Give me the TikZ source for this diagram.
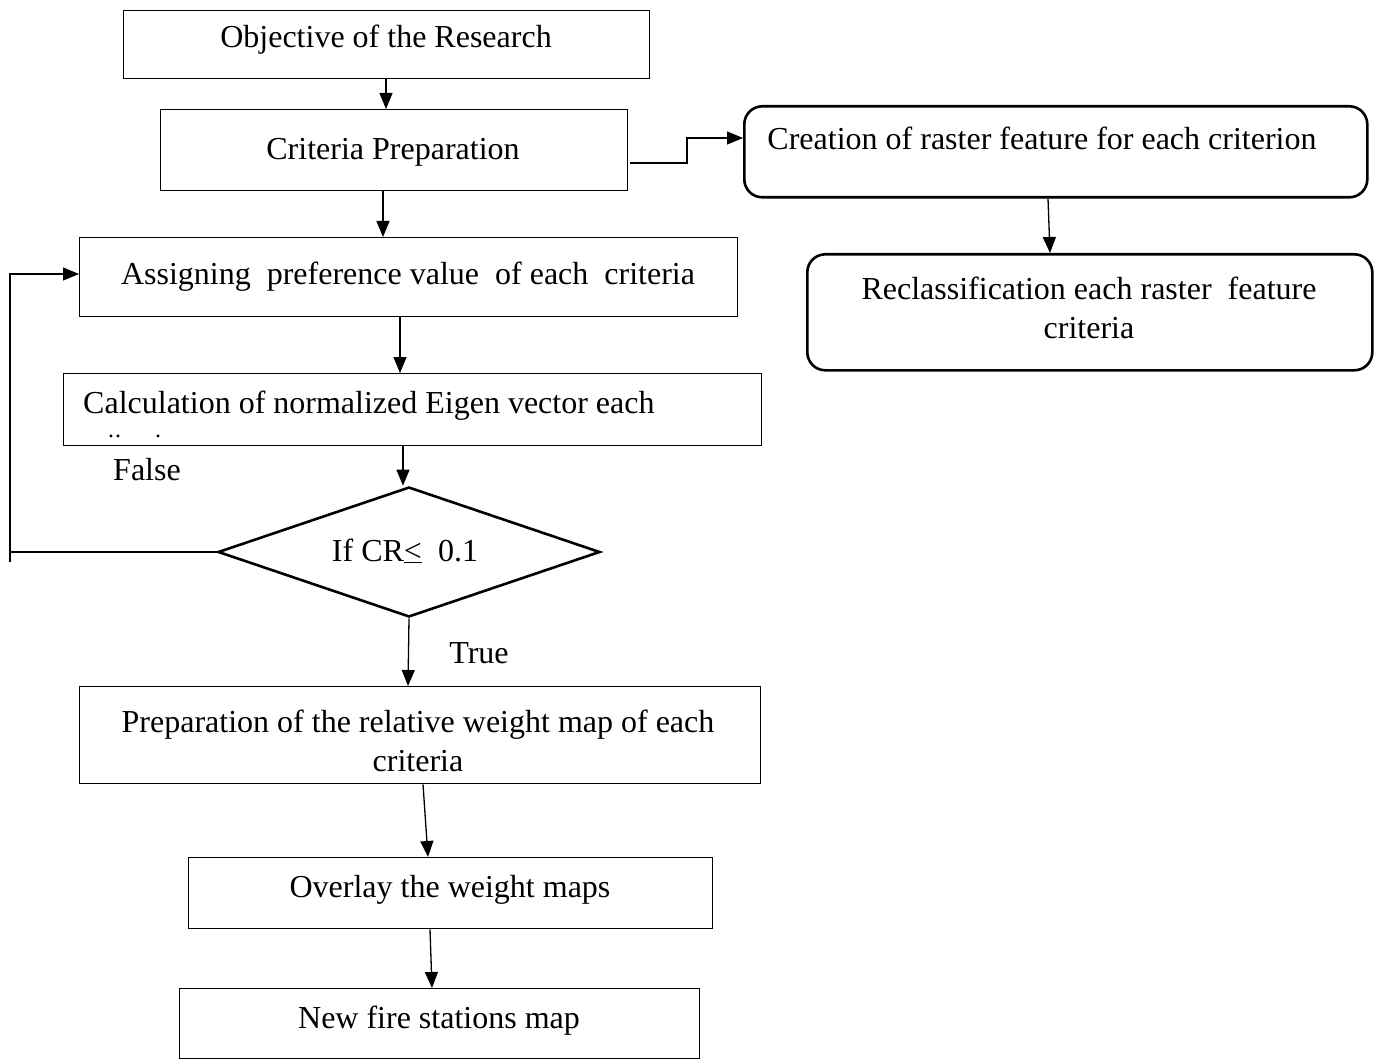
\documentclass[tikz,border=0pt]{standalone}
\usepackage{fontspec}
\setmainfont{Liberation Serif}
\usetikzlibrary{arrows.meta,shapes.geometric}
\begin{document}
\begin{tikzpicture}[x=1pt,y=-1pt,
  box/.style={draw,line width=1.3pt,inner sep=0pt,anchor=north west},
  rbox/.style={draw,line width=2.6pt,rounded corners=18pt,inner sep=0pt,anchor=north west},
  txt/.style={anchor=base,inner sep=0pt,font=\fontsize{32}{39}\selectfont,align=center},
  arr/.style={line width=1.3pt,-{Triangle[length=16pt,width=13pt]}},
  ln/.style={line width=1.3pt}]
\useasboundingbox (0,0) rectangle (1379,1059);
% boxes
\node[box,minimum width=526pt,minimum height=68pt] (obj) at (123,10) {};
\node[box,minimum width=467pt,minimum height=81pt] (crit) at (160,109) {};
\node[box,minimum width=658pt,minimum height=79pt] (asg) at (79,237) {};
\node[box,minimum width=698pt,minimum height=72pt] (calc) at (63,373) {};
\node[draw,line width=2.6pt,diamond,aspect=2.94,minimum width=382pt,minimum height=130pt,inner sep=0pt] (dia) at (409,552) {};
\node[box,minimum width=681pt,minimum height=97pt] (prep) at (79,686) {};
\node[box,minimum width=524pt,minimum height=71pt] (ovl) at (188,857) {};
\node[box,minimum width=520pt,minimum height=70pt] (nfs) at (179,988) {};
\node[rbox,minimum width=623pt,minimum height=91pt] (cre) at (743,105) {};
\node[rbox,minimum width=565pt,minimum height=116pt] (rec) at (806,253) {};
% texts
\node[txt] (tobj) at (386,48) {Objective of the Research};
\node[txt] (tcrit) at (393,160) {Criteria Preparation};
\node[txt] (tasg) at (408,285) {Assigning\ \ preference value\ \ of each\ \ criteria};
\node[txt,anchor=base west] (tcalc) at (83,413) {Calculation of normalized Eigen vector each};
\node[anchor=base west,inner sep=0pt,font=\fontsize{24}{24}\selectfont] (tdots) at (108,437) {.\kern1pt.\hspace{34pt}.};
\node[txt] (tdia) at (405,561) {If CR\underline{<}\ \ 0.1};
\node[txt] (tprep) at (418,771) {Preparation of the relative weight map of each\\criteria};
\node[txt] (tovl) at (450,897) {Overlay the weight maps};
\node[txt] (tnfs) at (439,1028) {New fire stations map};
\node[txt] (tcre) at (1042,150) {Creation of raster feature for each criterion};
\node[txt] (trec) at (1089,338) {Reclassification each raster\ \ feature\\criteria};
\node[txt] (tfalse) at (147,480) {False};
\node[txt] (ttrue) at (479,663) {True};
% connectors
\draw[arr] (386,0 |- obj.south) -- (386,0 |- crit.north);
\draw[arr] (383,0 |- crit.south) -- (383,0 |- asg.north);
\draw[arr] (400,0 |- asg.south) -- (400,0 |- calc.north);
\draw[arr] (403,0 |- calc.south) -- (403,0 |- dia.north);
\draw[arr] (dia.south) -- (408,0 |- prep.north);
\draw[arr] (423,0 |- prep.south) -- (428,0 |- ovl.north);
\draw[arr] (430,0 |- ovl.south) -- (432,0 |- nfs.north);
\draw[arr] (1048,0 |- cre.south) -- (1050,0 |- rec.north);
\draw[arr] ([xshift=2pt]crit.east |- 0,163) -- (687,163) -- (687,138) -- (cre.west |- 0,138);
\coordinate (lp) at (10,552);
\draw[arr] (dia.west) -- (lp) -- (10,274) -- (asg.west |- 0,274);
\draw[ln] (10,546) -- (10,562);
\end{tikzpicture}
\end{document}
